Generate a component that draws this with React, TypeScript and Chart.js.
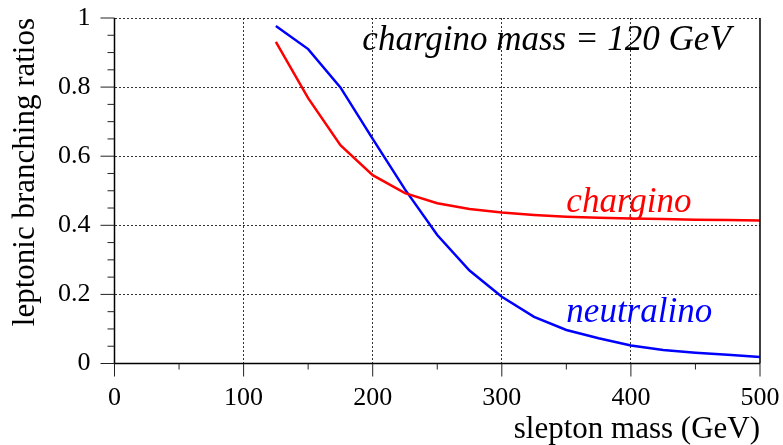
import React, { useEffect, useRef } from "react";
import { Chart, registerables } from "chart.js";

Chart.register(...registerables);

const sleptonMass = [125, 150, 175, 200, 225, 250, 275, 300, 325, 350, 375, 400, 425, 450, 475, 500];
const charginoBR = [0.931, 0.768, 0.632, 0.545, 0.493, 0.464, 0.447, 0.437, 0.430, 0.425, 0.422, 0.420, 0.418, 0.416, 0.415, 0.414];
const neutralinoBR = [0.977, 0.910, 0.799, 0.650, 0.504, 0.372, 0.269, 0.193, 0.135, 0.097, 0.073, 0.052, 0.039, 0.031, 0.025, 0.019];

const xTicks = [0, 100, 200, 300, 400, 500];
const yTicks = [0, 0.2, 0.4, 0.6, 0.8, 1];

const titleText = "chargino mass = 120 GeV";
const xTitle = "slepton mass (GeV)";
const yTitle = "leptonic branching ratios";

const SERIF = '"Liberation Serif", "Times New Roman", serif';

const framePlugin = {
  id: "frameTicks",
  afterDatasetsDraw(chart: any) {
    const { ctx, chartArea, scales } = chart;
    const { left, right, top, bottom } = chartArea;
    const xs = scales.x;
    const ys = scales.y;
    ctx.save();
    ctx.strokeStyle = "#000";
    ctx.lineWidth = 1.5;
    ctx.setLineDash([]);
    ctx.beginPath();
    ctx.moveTo(left, top);
    ctx.lineTo(left, bottom);
    ctx.lineTo(right, bottom);
    ctx.moveTo(right, top);
    ctx.lineTo(right, bottom);
    ctx.stroke();
    ctx.lineWidth = 1;
    ctx.strokeStyle = "#222";
    ctx.beginPath();
    for (let i = 0; i <= 20; i++) {
      const v = i * 0.05;
      const y = ys.getPixelForValue(v);
      const len = i % 4 === 0 ? 14 : 7;
      ctx.moveTo(left - len, y);
      ctx.lineTo(left, y);
    }
    for (let i = 0; i <= 10; i++) {
      const v = i * 50;
      const x = xs.getPixelForValue(v);
      const len = i % 2 === 0 ? 13 : 6;
      ctx.moveTo(x, bottom);
      ctx.lineTo(x, bottom + len);
    }
    ctx.stroke();

    ctx.font = "italic 35px " + SERIF;
    ctx.textBaseline = "alphabetic";
    ctx.textAlign = "left";
    ctx.fillStyle = "#000";
    ctx.fillText(titleText, xs.getPixelForValue(192), ys.getPixelForValue(0.907));
    ctx.fillStyle = "#ff0000";
    ctx.fillText("chargino", xs.getPixelForValue(350), ys.getPixelForValue(0.439));
    ctx.fillStyle = "#0000ff";
    ctx.fillText("neutralino", xs.getPixelForValue(350), ys.getPixelForValue(0.121));
    ctx.restore();
  },
};

const zeroPad = (s: any) => {
  s.paddingTop = 0;
  s.paddingBottom = 0;
  s.paddingLeft = 0;
  s.paddingRight = 0;
};

export default function App() {
  const ref = useRef<HTMLCanvasElement>(null);
  useEffect(() => {
    if (!ref.current) return;
    const chart = new Chart(ref.current, {
      type: "line",
      data: {
        datasets: [
          {
            label: "chargino",
            data: sleptonMass.map((m, i) => ({ x: m, y: charginoBR[i] })),
            borderColor: "#ff0000",
            borderWidth: 2.5,
            pointRadius: 0,
            tension: 0,
            fill: false,
          },
          {
            label: "neutralino",
            data: sleptonMass.map((m, i) => ({ x: m, y: neutralinoBR[i] })),
            borderColor: "#0000ff",
            borderWidth: 2.5,
            pointRadius: 0,
            tension: 0,
            fill: false,
          },
        ],
      },
      options: {
        animation: false,
        responsive: false,
        devicePixelRatio: 1,
        layout: { padding: { left: 0, top: 18, right: 23, bottom: 0 } },
        plugins: { legend: { display: false }, tooltip: { enabled: false }, title: { display: false } },
        scales: {
          x: {
            type: "linear",
            min: 0,
            max: 500,
            afterBuildTicks: (s: any) => {
              s.ticks = xTicks.map((v) => ({ value: v }));
            },
            afterFit: (s: any) => {
              s.height = 81.5;
              zeroPad(s);
            },
            ticks: {
              font: { family: SERIF, size: 26 },
              color: "#000",
              padding: 19,
              maxRotation: 0,
              autoSkip: false,
              callback: (v: any) => String(v),
            },
            grid: {
              drawTicks: false,
              lineWidth: 1,
              color: (c: any) => (c.tick && (c.tick.value === 0 || c.tick.value === 500) ? "rgba(0,0,0,0)" : "#333"),
            },
            border: { display: false, dash: [2, 2] },
            title: {
              display: true,
              text: xTitle,
              align: "end",
              color: "#000",
              font: { family: SERIF, size: 31, lineHeight: 1 },
              padding: { top: 0, bottom: 0 },
            },
          },
          y: {
            type: "linear",
            min: 0,
            max: 1,
            afterBuildTicks: (s: any) => {
              s.ticks = yTicks.map((v) => ({ value: v }));
            },
            afterFit: (s: any) => {
              s.width = 114.5;
              zeroPad(s);
            },
            ticks: {
              font: { family: SERIF, size: 26 },
              color: "#000",
              padding: 24,
              autoSkip: false,
              callback: (v: any) => String(Number(Number(v).toFixed(1))),
            },
            grid: {
              drawTicks: false,
              lineWidth: 1,
              color: (c: any) => (c.tick && c.tick.value === 0 ? "rgba(0,0,0,0)" : "#333"),
            },
            border: { display: false, dash: [2, 2] },
            title: {
              display: true,
              text: yTitle,
              align: "end",
              color: "#000",
              font: { family: SERIF, size: 31 },
              padding: { top: 7, bottom: 0 },
            },
          },
        },
      },
      plugins: [framePlugin],
    });
    return () => chart.destroy();
  }, []);
  return (
    <div style={{ position: "absolute", left: 0, top: 0, width: 783, height: 445, background: "#fff" }}>
      <canvas ref={ref} width={783} height={445} />
    </div>
  );
}
